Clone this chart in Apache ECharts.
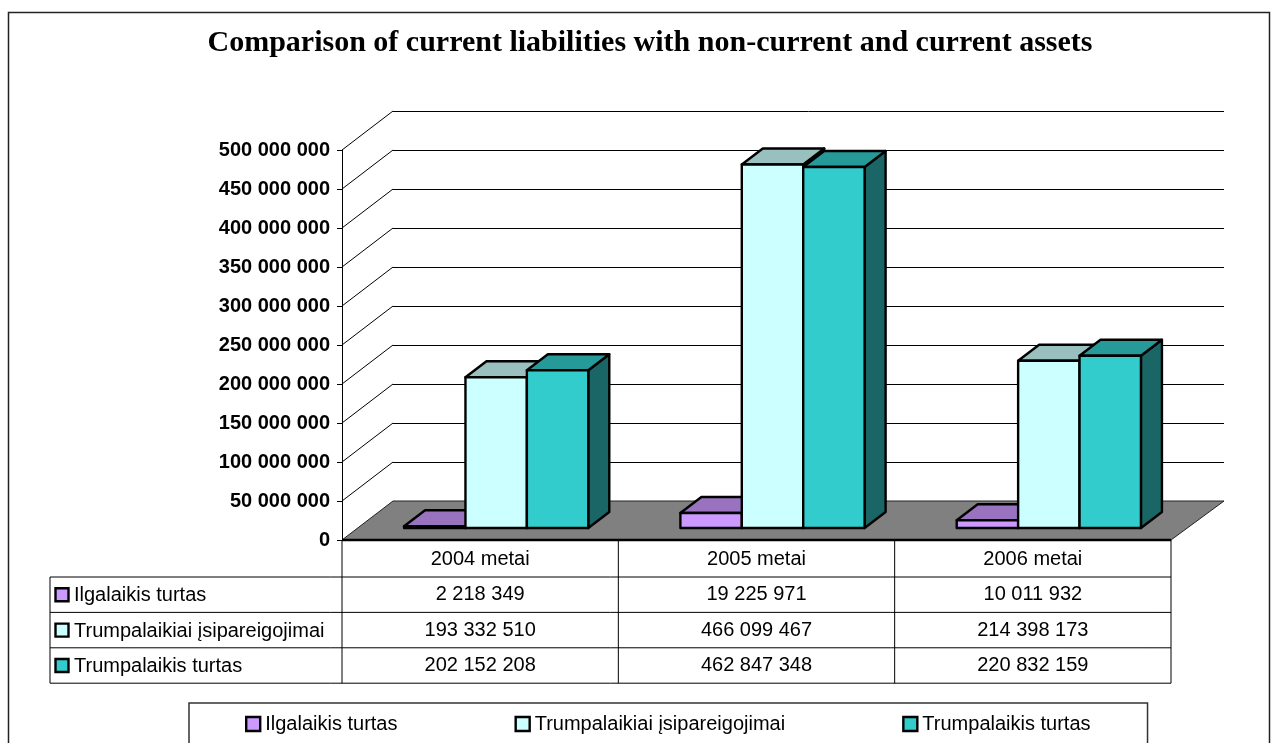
<!DOCTYPE html>
<html>
<head>
<meta charset="utf-8">
<script src="https://cdn.jsdelivr.net/npm/echarts@6/dist/echarts.min.js"></script>
<style>html,body{margin:0;padding:0;background:#fff;}#c{width:1274px;height:743px;}</style>
</head>
<body>
<div id="c"></div>
<script>
// ---- data ----
const categories = ['2004 metai', '2005 metai', '2006 metai'];
const seriesNames = ['Ilgalaikis turtas', 'Trumpalaikiai įsipareigojimai', 'Trumpalaikis turtas'];
const ilgalaikisTurtas = [2218349, 19225971, 10011932];
const trumpalaikiaiIsipareigojimai = [193332510, 466099467, 214398173];
const trumpalaikisTurtas = [202152208, 462847348, 220832159];
const yTickValues = [0, 50000000, 100000000, 150000000, 200000000, 250000000, 300000000, 350000000, 400000000, 450000000, 500000000];
const titleText = 'Comparison of current liabilities with non-current and current assets';

// ---- styles ----
const frontColors = ['#CC99FF', '#CCFFFF', '#33CCCC'];
const topColors = ['#9973BF', '#99BFBF', '#269999'];
const sideColors = ['#664D80', '#668080', '#1A6666'];
const FONT = 'Arial, "Liberation Sans", sans-serif';
const allValues = [ilgalaikisTurtas, trumpalaikiaiIsipareigojimai, trumpalaikisTurtas];

function fmt(n) { return String(n).replace(/\B(?=(\d{3})+(?!\d))/g, ' '); }

const WALL_DX = 51, WALL_DY = -39;   // depth of floor/wall
const BAR_DX = 21, BAR_DY = -16;     // depth of the bars
const HEADER_H = 37, ROW_H = 35.4, TABLE_LEFT = 50;

const chart = echarts.init(document.getElementById('c'), null, {renderer: 'canvas'});

function barRender(sIdx) {
  return function (params, api) {
    const ci = api.value(0), v = api.value(1);
    const base = api.coord([ci, 0]);
    const top = api.coord([ci, v]);
    const band = api.size([1, 0])[0];
    const bw = band / 4.5;
    const x0 = base[0] - 1.5 * bw + sIdx * bw, x1 = x0 + bw;
    const y0 = base[1], y1 = top[1];
    const st = {stroke: '#000', lineWidth: 2.4, lineJoin: 'round'};
    return {
      type: 'group',
      children: [
        {type: 'polygon', shape: {points: [[x1, y1], [x1 + BAR_DX, y1 + BAR_DY], [x1 + BAR_DX, y0 + BAR_DY], [x1, y0]]},
          style: Object.assign({fill: sideColors[sIdx]}, st)},
        {type: 'polygon', shape: {points: [[x0, y1], [x1, y1], [x1 + BAR_DX, y1 + BAR_DY], [x0 + BAR_DX, y1 + BAR_DY]]},
          style: Object.assign({fill: topColors[sIdx]}, st)},
        {type: 'polygon', shape: {points: [[x0, y1], [x1, y1], [x1, y0], [x0, y0]]},
          style: Object.assign({fill: frontColors[sIdx]}, st)}
      ]
    };
  };
}

function frameRender(params, api) {
  const cs = params.coordSys;
  const x = cs.x, w = cs.width;
  const y0 = api.coord([0, 0])[1];
  const ch = [];
  // floor
  ch.push({type: 'polygon', shape: {points: [[x, y0], [x + w, y0], [x + w + WALL_DX + 2, y0 + WALL_DY], [x + WALL_DX, y0 + WALL_DY]]},
    style: {fill: '#808080', stroke: '#222', lineWidth: 1}});
  // diagonals from axis ticks to back wall
  yTickValues.forEach(function (v) {
    if (v === 0) return;
    const yy = api.coord([0, v])[1];
    ch.push({type: 'line', shape: {x1: x, y1: yy, x2: x + WALL_DX, y2: yy + WALL_DY}, style: {stroke: '#000', lineWidth: 1}});
  });
  // table
  const rowTop = y0 + HEADER_H;
  const rows = [rowTop, rowTop + ROW_H, rowTop + 2 * ROW_H, rowTop + 3 * ROW_H];
  const colW = w / categories.length;
  rows.forEach(function (ry) {
    ch.push({type: 'line', shape: {x1: TABLE_LEFT, y1: ry, x2: x + w, y2: ry}, style: {stroke: '#000', lineWidth: 1}});
  });
  ch.push({type: 'line', shape: {x1: TABLE_LEFT, y1: rows[0], x2: TABLE_LEFT, y2: rows[3]}, style: {stroke: '#000', lineWidth: 1}});
  for (let i = 0; i <= categories.length; i++) {
    ch.push({type: 'line', shape: {x1: x + i * colW, y1: y0, x2: x + i * colW, y2: rows[3]}, style: {stroke: '#000', lineWidth: 1}});
  }
  categories.forEach(function (c, i) {
    const cx = x + (i + 0.5) * colW;
    ch.push({type: 'text', x: cx, y: y0 + HEADER_H / 2 + 1, style: {text: c, fill: '#000', font: '20px ' + FONT, textAlign: 'center', textVerticalAlign: 'middle'}});
    allValues.forEach(function (arr, s) {
      ch.push({type: 'text', x: cx, y: rows[s] + ROW_H / 2, style: {text: fmt(arr[i]), fill: '#000', font: '20px ' + FONT, textAlign: 'center', textVerticalAlign: 'middle'}});
    });
  });
  seriesNames.forEach(function (n, s) {
    const cy = rows[s] + ROW_H / 2;
    ch.push({type: 'rect', shape: {x: TABLE_LEFT + 5.5, y: cy - 6.5, width: 13, height: 13}, style: {fill: frontColors[s], stroke: '#000', lineWidth: 2.4}});
    ch.push({type: 'text', x: TABLE_LEFT + 24, y: cy + 1, style: {text: n, fill: '#000', font: '20px ' + FONT, textAlign: 'left', textVerticalAlign: 'middle'}});
  });
  // front floor edge
  ch.push({type: 'line', shape: {x1: x, y1: y0, x2: x + w, y2: y0}, style: {stroke: '#000', lineWidth: 2.5}});
  return {type: 'group', children: ch};
}

const option = {
  animation: false,
  backgroundColor: '#fff',
  title: {
    text: titleText, left: 645, top: 23, textAlign: 'center',
    textStyle: {fontFamily: '"Liberation Serif", "Times New Roman", serif', fontWeight: 'bold', fontSize: 30, color: '#000'}
  },
  legend: {
    data: seriesNames, left: 189, top: 703, orient: 'horizontal', itemGap: 117,
    itemWidth: 14, itemHeight: 14, icon: 'rect', selectedMode: false,
    padding: [11, 57, 40, 56], borderColor: '#333', borderWidth: 1.5,
    itemStyle: {borderColor: '#000', borderWidth: 2.4},
    textStyle: {fontSize: 20, fontFamily: FONT, color: '#000'}
  },
  graphic: [
    {type: 'rect', shape: {x: 8.5, y: 12.5, width: 1261, height: 800}, style: {fill: 'none', stroke: '#222', lineWidth: 1.5}, z: 100, silent: true}
  ],
  grid: [
    {left: 342, top: 150, width: 829, height: 390},
    {left: 393, top: 111, width: 831, height: 390},
    {left: 358, top: 138, width: 829, height: 390}
  ],
  xAxis: [
    {type: 'category', gridIndex: 0, data: categories, show: false},
    {type: 'category', gridIndex: 1, data: categories, show: false},
    {type: 'category', gridIndex: 2, data: categories, show: false}
  ],
  yAxis: [
    {type: 'value', gridIndex: 0, min: 0, max: 500000000, interval: 50000000,
      axisLine: {show: true, lineStyle: {color: '#000', width: 1}},
      axisTick: {show: true, length: 5, inside: false, lineStyle: {color: '#000'}},
      axisLabel: {show: true, margin: 12, formatter: fmt, color: '#000', fontWeight: 'bold', fontSize: 20, fontFamily: FONT},
      splitLine: {show: false}},
    {type: 'value', gridIndex: 1, min: 0, max: 500000000, interval: 50000000,
      axisLine: {show: false}, axisTick: {show: false}, axisLabel: {show: false},
      splitLine: {show: true, lineStyle: {color: '#000', width: 1}}},
    {type: 'value', gridIndex: 2, min: 0, max: 500000000, interval: 50000000, show: false}
  ],
  series: [
    {type: 'custom', xAxisIndex: 0, yAxisIndex: 0, renderItem: frameRender, data: [[0, 0]], silent: true, z: 1}
  ].concat(allValues.map(function (arr, s) {
    return {
      type: 'custom', name: seriesNames[s], xAxisIndex: 2, yAxisIndex: 2, z: 3 + s,
      itemStyle: {color: frontColors[s]},
      renderItem: barRender(s),
      data: arr.map(function (v, i) { return [i, v]; })
    };
  }))
};
chart.setOption(option);
</script>
</body>
</html>
